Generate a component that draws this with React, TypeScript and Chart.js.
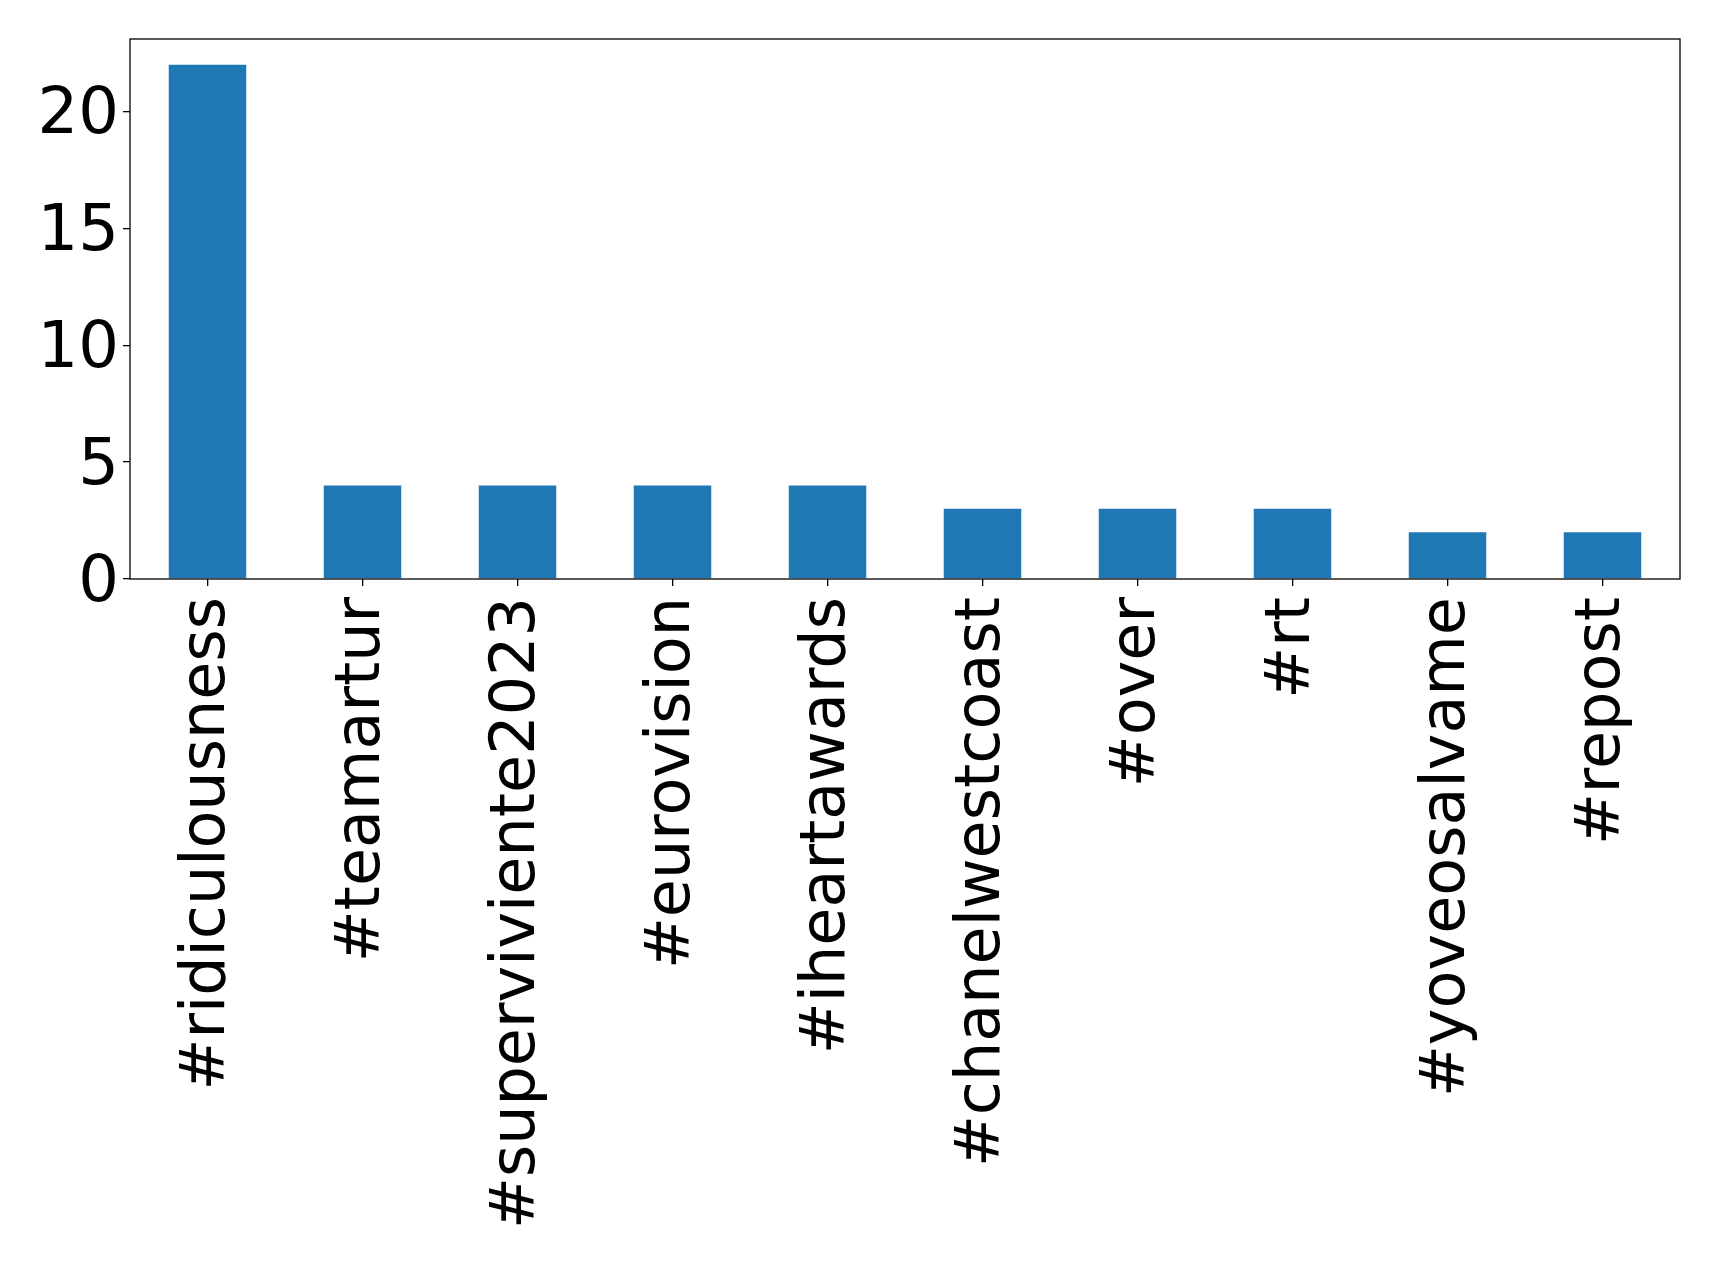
import React, { useEffect, useRef } from "react";
import { Chart, registerables } from "chart.js";

Chart.register(...registerables);

const categories = [
  "#ridiculousness",
  "#teamartur",
  "#superviviente2023",
  "#eurovision",
  "#iheartawards",
  "#chanelwestcoast",
  "#over",
  "#rt",
  "#yoveosalvame",
  "#repost",
];
const counts = [22, 4, 4, 4, 4, 3, 3, 3, 2, 2];
const yTicks = [0, 5, 10, 15, 20];
const yMax = 23.1;

const W = 1719;
const H = 1265;
const FONT = "'DejaVu Sans', sans-serif";

const frame = {
  id: "frame",
  afterDraw(chart: any) {
    const { ctx, chartArea } = chart;
    ctx.save();
    ctx.strokeStyle = "#000";
    ctx.lineWidth = 1.3;
    ctx.strokeRect(chartArea.left, chartArea.top, chartArea.right - chartArea.left, chartArea.bottom - chartArea.top);
    ctx.restore();
  },
};

export default function App() {
  const ref = useRef<HTMLCanvasElement | null>(null);
  useEffect(() => {
    document.body.style.margin = "0";
    const chart = new Chart(ref.current as HTMLCanvasElement, {
      type: "bar",
      data: {
        labels: categories,
        datasets: [
          {
            data: counts,
            backgroundColor: "#1f77b4",
            categoryPercentage: 0.5,
            barPercentage: 1,
          },
        ],
      },
      options: {
        animation: false,
        responsive: false,
        devicePixelRatio: 1,
        layout: { padding: { left: 0, top: 39, right: 39, bottom: 0 } },
        plugins: { legend: { display: false }, tooltip: { enabled: false } },
        scales: {
          x: {
            grid: { offset: false, drawOnChartArea: false, drawTicks: true, tickLength: 7, color: "#000", lineWidth: 1.3 },
            border: { display: false },
            ticks: {
              color: "#000",
              font: { family: FONT, size: 62 },
              minRotation: 90,
              maxRotation: 90,
              autoSkip: false,
              padding: 11,
            },
            afterFit(scale: any) {
              scale.height = H - 579;
              scale.paddingLeft = 0;
              scale.paddingRight = 0;
            },
          },
          y: {
            min: 0,
            max: yMax,
            grid: { drawOnChartArea: false, drawTicks: true, tickLength: 7, color: "#000", lineWidth: 1.3 },
            border: { display: false },
            ticks: {
              color: "#000",
              font: { family: FONT, size: 64 },
              padding: 4,
              labelOffset: 5,
            },
            afterBuildTicks(scale: any) {
              scale.ticks = yTicks.map((v) => ({ value: v }));
            },
            afterFit(scale: any) {
              scale.width = 130;
              scale.paddingTop = 0;
              scale.paddingBottom = 0;
            },
          },
        },
      },
      plugins: [frame],
    });
    return () => chart.destroy();
  }, []);
  return (
    <div style={{ position: "absolute", left: 0, top: 0, width: W, height: H, background: "#fff" }}>
      <canvas ref={ref} width={W} height={H} style={{ width: W, height: H }} />
    </div>
  );
}
